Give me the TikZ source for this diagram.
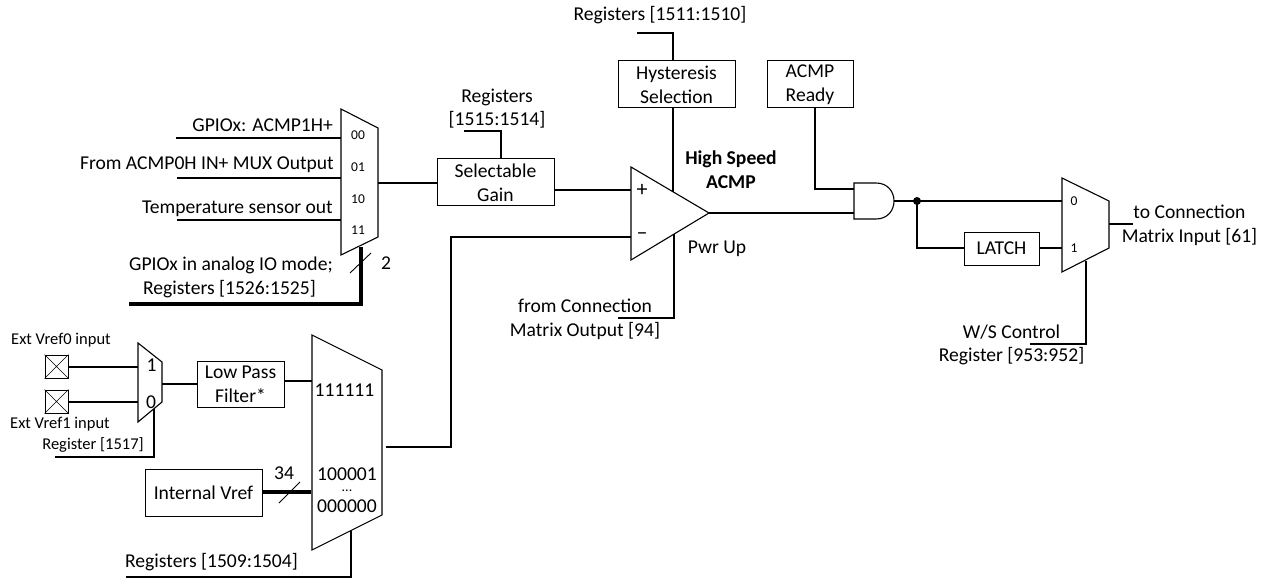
\documentclass[tikz,border=0pt]{standalone}
\usepackage{fontspec}
\setmainfont{Carlito}
\usetikzlibrary{calc}
\tikzset{
  wire/.style={draw=black,line width=1.1pt,line join=miter},
  bus/.style={draw=black,line width=3.4pt},
  tick/.style={draw=black,line width=0.9pt},
  shapeline/.style={draw=black,line width=1.1pt,line join=miter,fill=white},
  boxnode/.style={draw=black,line width=1pt,fill=white,inner sep=0pt,align=center,font=\fontsize{19.6}{23.7}\selectfont},
  lab/.style={inner sep=0pt,align=center,font=\fontsize{19.6}{23.7}\selectfont},
  smalllab/.style={inner sep=0pt,align=center,font=\fontsize{16.5}{18}\selectfont},
  tinylab/.style={inner sep=0pt,font=\fontsize{13.5}{14}\selectfont},
}
\begin{document}
\begin{tikzpicture}[x=1pt,y=-1pt]
\useasboundingbox (0,0) rectangle (1271,580);

% --- free ends and ports
\coordinate (g0) at (176,138); \coordinate (g0m) at (341,138);
\coordinate (g1) at (177,178); \coordinate (g1m) at (341,178);
\coordinate (g2) at (177,220); \coordinate (g2m) at (341,220);
\coordinate (m1out) at (378,183);
\coordinate (m1sel) at (361,247); \coordinate (m1c) at (361,304); \coordinate (m1e) at (129,304);
\coordinate (t1a) at (350,273); \coordinate (t1b) at (371,253);

% --- boxes
\node[boxnode,minimum width=117pt,minimum height=47pt] (gain) at (495.5,182.5) {Selectable\\Gain};
\node[boxnode,minimum width=117pt,minimum height=47pt] (hyst) at (676.5,84.5) {Hysteresis\\Selection};
\node[boxnode,minimum width=86pt,minimum height=47pt] (ready) at (810,84.5) {ACMP\\Ready};
\node[boxnode,minimum width=75pt,minimum height=33pt] (latch) at (1001.5,248.5) {LATCH};
\node[boxnode,minimum width=87pt,minimum height=46pt] (lpf) at (240.5,384) {Low Pass\\Filter*};
\node[boxnode,minimum width=117pt,minimum height=47pt] (ivref) at (203.5,492.5) {Internal Vref};
\node[draw=black,line width=1pt,minimum size=23pt,inner sep=0pt] (ext0) at (56.5,366.5) {};
\node[draw=black,line width=1pt,minimum size=23pt,inner sep=0pt] (ext1) at (56.5,401.5) {};
\draw[line width=0.6pt] (ext0.north west) -- (ext0.south east) (ext0.north east) -- (ext0.south west);
\draw[line width=0.6pt] (ext1.north west) -- (ext1.south east) (ext1.north east) -- (ext1.south west);

% --- muxes, comparator, gate
\draw[shapeline] (341,109) -- (378,128) -- (378,237) -- (341,255) -- cycle;
\draw[shapeline] (138,343) -- (162,362) -- (162,402) -- (138,422) -- cycle;
\draw[shapeline] (312,335) -- (382,370) -- (382,515) -- (312,550) -- cycle;
\draw[shapeline] (1062,178) -- (1109,201) -- (1109,248) -- (1062,272) -- cycle;
\draw[shapeline] (631,167) -- (709,213) coordinate (tip) -- (631,260) -- cycle;
\draw[shapeline] (854,183) -- (876,183) .. controls (900,183) and (900,219) .. (876,219) -- (854,219) -- cycle;
\coordinate (andout) at (894,201);

% --- connectors
\draw[wire] (g0) -- (g0m);
\draw[wire] (g1) -- (g1m);
\draw[wire] (g2) -- (g2m);
\draw[wire] (m1out) -- (gain.west |- m1out);
\draw[bus,line join=miter] (m1sel) -- (m1c) -- (m1e);
\draw[tick] (t1a) -- (t1b);

\coordinate (m2in0) at (138,367); \coordinate (m2in1) at (138,402);
\draw[wire] (ext0.east |- m2in0) -- (m2in0);
\draw[wire] (ext1.east |- m2in1) -- (m2in1);
\coordinate (m2out) at (162,384);
\draw[wire] (m2out) -- (lpf.west |- m2out);
\coordinate (m3in0) at (312,381);
\draw[wire] (lpf.east |- m3in0) -- (m3in0);
\coordinate (m2sel) at (154,409); \coordinate (m2selc) at (154,457); \coordinate (m2sele) at (55,457);
\draw[wire] (m2sel) -- (m2selc) -- (m2sele);
\coordinate (m3in1) at (311,492);
\draw[bus] (ivref.east |- m3in1) -- (m3in1);
\coordinate (t2a) at (279,503); \coordinate (t2b) at (300,482);
\draw[tick] (t2a) -- (t2b);
\coordinate (m3sel) at (351,531); \coordinate (m3selc) at (351,577); \coordinate (m3sele) at (126,577);
\draw[wire] (m3sel) -- (m3selc) -- (m3sele);
\coordinate (m3out) at (386,447); \coordinate (m3c) at (451,447); \coordinate (minus) at (631,237);
\draw[wire] (m3out) -- (m3c) -- (m3c |- minus) -- (minus);
\coordinate (plus) at (631,190);
\draw[wire] (gain.east |- plus) -- (plus);

\coordinate (gainc) at (501,131); \coordinate (gaine) at (464,131);
\draw[wire] (gain.north -| gainc) -- (gainc) -- (gaine);
\coordinate (hc) at (673,33); \coordinate (he) at (637,33);
\draw[wire] (hyst.north -| hc) -- (hc) -- (he);
\coordinate (hcmp) at (673,192);
\draw[wire] (hyst.south -| hcmp) -- (hcmp);
\coordinate (pwr) at (674,234); \coordinate (pwrc) at (674,318); \coordinate (pwre) at (618,318);
\draw[wire] (pwr) -- (pwrc) -- (pwre);

\coordinate (and0) at (854,189); \coordinate (and1) at (854,213);
\coordinate (rc) at (815,189);
\draw[wire] (ready.south -| rc) -- (rc) -- (and0);
\draw[wire] (tip) -- (and1);
\coordinate (m4in0) at (1062,201); \coordinate (m4in1) at (1062,248);
\draw[wire] (andout) -- (m4in0);
\fill (917,201) coordinate (dot) circle[radius=4pt];
\draw[wire] (dot) -- (dot |- m4in1) -- (latch.west |- m4in1);
\draw[wire] (latch.east |- m4in1) -- (m4in1);
\coordinate (m4out) at (1109,224); \coordinate (m4oute) at (1133,224);
\draw[wire] (m4out) -- (m4oute);
\coordinate (m4sel) at (1086,261); \coordinate (m4selc) at (1086,344); \coordinate (m4sele) at (1030,344);
\draw[wire] (m4sel) -- (m4selc) -- (m4sele);

% --- labels
\node[lab,anchor=east] (l1) at (333,125) {GPIOx: ACMP1H+};
\node[lab,anchor=east] (l2) at (334,165) {From ACMP0H IN+ MUX Output};
\node[lab,anchor=east] (l3) at (333,209) {Temperature sensor out};
\node[lab,anchor=east] (l4) at (333,265) {GPIOx in analog IO mode;};
\node[lab] (l5) at (229.5,289) {Registers [1526:1525]};
\node[lab] (l6) at (386,263) {2};
\node[tinylab] (s00) at (358,135) {00};
\node[tinylab] (s01) at (358,167) {01};
\node[tinylab] (s10) at (358,199) {10};
\node[tinylab] (s11) at (358,230) {11};
\node[smalllab] (e0) at (61,340) {Ext Vref0 input};
\node[smalllab] (e1) at (60,424) {Ext Vref1 input};
\node[smalllab] (e2) at (93,445) {Register [1517]};
\node[lab] (m2a) at (151.5,365) {1};
\node[lab] (m2b) at (151,402) {0};
\node[lab] (c1) at (344.5,390) {111111};
\node[lab] (c2) at (347,474) {100001};
\node[inner sep=0pt,font=\fontsize{14}{14}\selectfont] (c3) at (347,491) {...};
\node[lab] (c4) at (347,506) {000000};
\node[lab] (c5) at (284,473) {34};
\node[lab] (r1) at (211.5,562) {Registers [1509:1504]};
\node[lab] (r2) at (497,97) {Registers};
\node[lab] (r3) at (497,120) {[1515:1514]};
\node[lab] (r4) at (660,15) {Registers [1511:1510]};
\node[lab,font=\fontsize{19.6}{23.7}\selectfont\bfseries] (r5) at (731,169.5) {High Speed\\ACMP};
\node[lab,font=\fontsize{22}{24}\selectfont] (r6) at (642,190) {+};
\node[lab,font=\fontsize{22}{24}\selectfont] (r7) at (642,236) {–};
\node[lab] (r8) at (717,249) {Pwr Up};
\node[lab] (r9) at (585,319) {from Connection\\Matrix Output [94]};
\node[tinylab] (z0) at (1074,201) {0};
\node[tinylab] (z1) at (1074,248) {1};
\node[lab] (o1) at (1189.5,225.5) {to Connection\\Matrix Input [61]};
\node[lab] (o2) at (1011.5,345) {W/S Control\\Register [953:952]};
\end{tikzpicture}
\end{document}
